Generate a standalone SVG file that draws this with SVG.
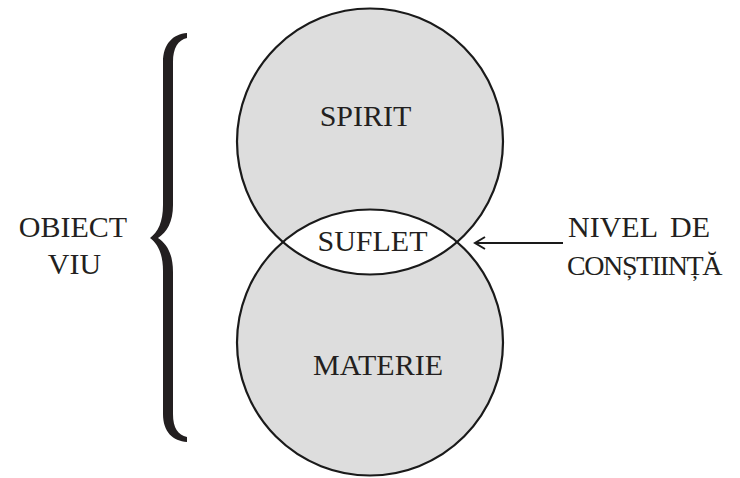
<svg xmlns="http://www.w3.org/2000/svg" width="740" height="478" viewBox="0 0 740 478">
<style>
.lbl{font-family:"Liberation Serif","Times New Roman",serif;font-size:30px;fill:#231f20}
.c{fill:#dddddd;stroke:none}
.o{fill:none;stroke:#1a1a1a;stroke-width:2.2}
</style>
<defs>
<marker id="ah" markerWidth="14" markerHeight="14" refX="12" refY="7" orient="auto" markerUnits="userSpaceOnUse">
<path d="M2 1 L12 7 L2 13" fill="none" stroke="#1a1a1a" stroke-width="2"/>
</marker>
</defs>
<rect width="740" height="478" fill="#ffffff"/>
<g id="spirit">
<circle class="c" cx="370" cy="141.5" r="133"/>
</g>
<g id="materie">
<circle class="c" cx="370" cy="342.5" r="133"/>
</g>
<g id="suflet">
<path d="M282.9 242 A133 133 0 0 1 457.1 242 A133 133 0 0 1 282.9 242 Z" fill="#ffffff"/>
</g>
<circle class="o" cx="370" cy="141.5" r="133"/>
<circle class="o" cx="370" cy="342.5" r="133"/>
<text class="lbl" x="365.5" y="126" text-anchor="middle">SPIRIT</text>
<text class="lbl" x="372.5" y="251" text-anchor="middle">SUFLET</text>
<text class="lbl" x="378" y="375" text-anchor="middle">MATERIE</text>
<g id="brace">
<path d="M187 33 C173 34 163 44 163 62 L163 205 C163 222 158 232 150 238 C158 244 163 254 163 271 L163 414 C163 432 173 441 187 442 L187 437 C178 435 173 428 173 414 L173 272 C173 254 167 244 158 238 C167 232 173 222 173 205 L173 62 C173 48 178 40 187 38 Z" fill="#231f20"/>
</g>
<g id="obiect-viu">
<text class="lbl" x="73" y="237" text-anchor="middle">OBIECT</text>
<text class="lbl" x="74.5" y="274" text-anchor="middle">VIU</text>
</g>
<g id="nivel">
<text class="lbl" x="568" y="237">NIVEL<tspan dx="12">DE</tspan></text>
<text class="lbl" x="567" y="275" style="font-size:28px;letter-spacing:-1.4px">CONȘTIINȚĂ</text>
</g>
<g id="connectors">
<line x1="563" y1="243" x2="475" y2="243" stroke="#1a1a1a" stroke-width="2" marker-end="url(#ah)"/>
</g>
</svg>
